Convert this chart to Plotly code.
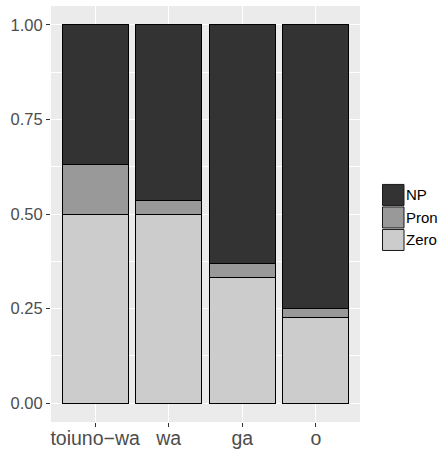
import plotly.graph_objects as go

categories = ["toiuno−wa", "wa", "ga", "o"]
zero = [0.500, 0.500, 0.331, 0.226]
pron = [0.132, 0.036, 0.038, 0.025]
np_vals = [0.368, 0.464, 0.631, 0.749]

series_names = ["Zero", "Pron", "NP"]
series_values = [zero, pron, np_vals]
series_colors = ["#cccccc", "#999999", "#333333"]

y_ticks = [0, 0.25, 0.5, 0.75, 1.0]
y_ticklabels = ["0.00", "0.25", "0.50", "0.75", "1.00"]

FONT = "Liberation Sans, Arial, sans-serif"

fig = go.Figure()
for name, vals, col in zip(series_names, series_values, series_colors):
    fig.add_trace(go.Bar(
        x=categories, y=vals, name=name,
        marker=dict(color=col, line=dict(color="black", width=1)),
        width=0.9, showlegend=False,
    ))

# legend built as shapes + annotations (NP on top)
W, H = 440, 449
PL, PR, PT, PB = 51, 360, 6, 421.7
key_top = 184.3
key_h = 21.0
key_gap = 1.5
for i, (name, col) in enumerate(zip(series_names[::-1], series_colors[::-1])):
    y0 = key_top + i * (key_h + key_gap)
    y1 = y0 + key_h
    fig.add_shape(type="rect", xref="paper", yref="paper",
                  x0=(382.5 - PL) / (PR - PL), x1=(404 - PL) / (PR - PL),
                  y0=1 - (y1 - PT) / (PB - PT), y1=1 - (y0 - PT) / (PB - PT),
                  fillcolor=col, line=dict(color="#1a1a1a", width=1), layer="above")
    fig.add_annotation(xref="paper", yref="paper",
                       x=(406 - PL) / (PR - PL), y=1 - ((y0 + y1) / 2 - PT) / (PB - PT),
                       text=name, showarrow=False, xanchor="left", yanchor="middle",
                       xshift=-2,
                       font=dict(family=FONT, size=15, color="black"))

fig.update_layout(
    barmode="stack",
    width=W, height=H,
    margin=dict(l=PL, r=W - PR, t=PT, b=H - PB, autoexpand=False),
    paper_bgcolor="white",
    plot_bgcolor="#ebebeb",
    font=dict(family=FONT),
    showlegend=False,
)
fig.update_xaxes(
    type="category", range=[-0.6, 3.6], automargin=False,
    showgrid=True, gridcolor="white", gridwidth=1.1,
    ticks="outside", ticklen=4, tickcolor="#333333", tickwidth=1,
    ticklabelstandoff=-5,
    tickfont=dict(family=FONT, size=19.5, color="#4d4d4d"),
    showline=False, zeroline=False,
)
fig.update_yaxes(
    range=[-0.05, 1.05], automargin=False,
    tickvals=y_ticks, ticktext=y_ticklabels,
    showgrid=True, gridcolor="white", gridwidth=1.1,
    minor=dict(tickvals=[0.125, 0.375, 0.625, 0.875], showgrid=True,
               gridcolor="white", gridwidth=0.5, ticks=""),
    ticks="outside", ticklen=4, tickcolor="#333333", tickwidth=1,
    tickfont=dict(family=FONT, size=16.5, color="#4d4d4d"),
    showline=False, zeroline=False,
)

fig.write_html("out.html", config={"displayModeBar": False},
               post_script="document.body.style.margin='0';document.body.style.overflow='hidden';")
